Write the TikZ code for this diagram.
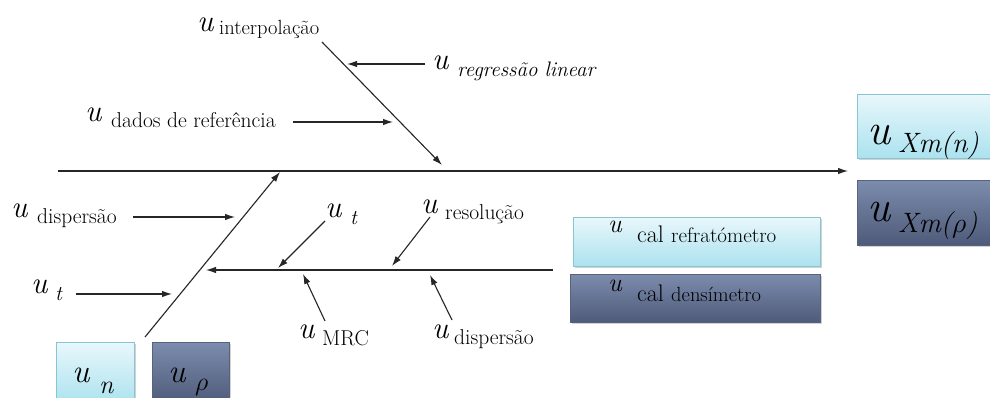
\RequirePackage{fix-cm}
\documentclass[tikz,border=0pt]{standalone}
\usetikzlibrary{arrows.meta,shadows}
\definecolor{ltop}{HTML}{E8F7FB}
\definecolor{lbot}{HTML}{ABE2EF}
\definecolor{ldraw}{HTML}{86C6D3}
\definecolor{dtop}{HTML}{7C8CAC}
\definecolor{dbot}{HTML}{4E5A7A}
\definecolor{ddraw}{HTML}{56627F}
\begin{document}
\begin{tikzpicture}[x=1pt,y=-1pt,
  ln/.style={line width=1.1pt,black!85},
  arr/.style={ln,-{Latex[length=10pt,width=6.5pt]}},
  lab/.style={anchor=base west,inner sep=0pt},
  uu/.style={lab,font=\fontsize{31}{31}\selectfont\itshape},
  sb/.style={lab,font=\fontsize{21.5}{21.5}\selectfont},
  lightbox/.style={draw=ldraw,line width=0.8pt,top color=ltop,bottom color=lbot,anchor=north west,inner sep=0pt,
    drop shadow={shadow xshift=1.5pt,shadow yshift=-1.5pt,opacity=0.35}},
  darkbox/.style={draw=ddraw,line width=0.8pt,top color=dtop,bottom color=dbot,anchor=north west,inner sep=0pt,
    drop shadow={shadow xshift=1.5pt,shadow yshift=-1.5pt,opacity=0.35}}]
\useasboundingbox[fill=white] (0,0) rectangle (990,398);
% coordinates
\coordinate (a0) at (58,171);   \coordinate (a1) at (848,171);
\coordinate (t0) at (322,42);   \coordinate (t1) at (442,165);
\coordinate (r0) at (425,64);   \coordinate (r1) at (347,64);
\coordinate (d0) at (293,122);  \coordinate (d1) at (393,122);
\coordinate (b0) at (145,337);  \coordinate (b1) at (280,172);
\coordinate (q0) at (133,217);  \coordinate (q1) at (235,217);
\coordinate (w0) at (76,294);   \coordinate (w1) at (172,294);
\coordinate (l0) at (553,270);  \coordinate (l1) at (206,270);
\coordinate (m0) at (325,221);  \coordinate (m1) at (278,268);
\coordinate (s0) at (430,217);  \coordinate (s1) at (392,266);
\coordinate (c0) at (325,321);  \coordinate (c1) at (303,274);
\coordinate (p0) at (452,320);  \coordinate (p1) at (430,275);
% boxes
\node[lightbox,minimum width=139pt,minimum height=64pt] (bXn) at (857,94) {};
\node[darkbox,minimum width=139pt,minimum height=65pt] (bXr) at (857,180) {};
\node[lightbox,minimum width=247pt,minimum height=49pt] (bref) at (573,217) {};
\node[darkbox,minimum width=250pt,minimum height=48pt] (bden) at (570,274) {};
\node[lightbox,minimum width=78pt,minimum height=62pt] (bn) at (56,342) {};
\node[darkbox,minimum width=77pt,minimum height=62pt] (br) at (152,342) {};
% box texts
\node[lab,font=\fontsize{44}{44}\selectfont\itshape] (uXn) at (867,145) {u};
\node[lab,font=\fontsize{28}{28}\selectfont\itshape] (sXn) at (898,153) {Xm(n)};
\node[lab,font=\fontsize{44}{44}\selectfont\itshape] (uXr) at (867,222) {u};
\node[lab,font=\fontsize{28}{28}\selectfont\itshape] (sXr) at (898,232) {Xm($\rho$)};
\node[lab,font=\fontsize{26}{26}\selectfont\itshape] (uref) at (608,232) {u};
\node[lab,font=\fontsize{24}{24}\selectfont] (sref) at (637,242) {cal {\fontsize{21}{21}\selectfont refratómetro}};
\node[lab,font=\fontsize{26}{26}\selectfont\itshape] (uden) at (608,291) {u};
\node[lab,font=\fontsize{24}{24}\selectfont] (sden) at (637,301) {cal {\fontsize{20.5}{20.5}\selectfont densímetro}};
\node[lab,font=\fontsize{33}{33}\selectfont\itshape] (un) at (72,382) {u};
\node[lab,font=\fontsize{26}{26}\selectfont\itshape] (sn) at (99,393) {n};
\node[lab,font=\fontsize{33}{33}\selectfont\itshape] (ur) at (168,382) {u};
\node[lab,font=\fontsize{26}{26}\selectfont] (sr) at (195,390) {$\rho$};
% lines
\draw[arr] (a0) -- (a1);
\draw[arr] (t0) -- (t1);
\draw[arr] (r0) -- (r1);
\draw[arr] (d0) -- (d1);
\draw[arr] (b0) -- (b1);
\draw[arr] (q0) -- (q1);
\draw[arr] (w0) -- (w1);
\draw[arr] (l0) -- (l1);
\draw[arr] (m0) -- (m1);
\draw[arr] (s0) -- (s1);
\draw[arr] (c0) -- (c1);
\draw[arr] (p0) -- (p1);
% labels
\node[uu] (uinterp) at (197,32) {u};  \node[sb,font=\fontsize{20.5}{20.5}\selectfont] (Linterp) at (219,35) {interpolação};
\node[uu] (uregr) at (432,70) {u};    \node[sb,font=\fontsize{21}{21}\selectfont\itshape] (Lregr) at (457,77) {regressão\hspace{7pt}linear};
\node[uu] (udados) at (85,122) {u};   \node[sb] (Ldados) at (111,128) {dados de referência};
\node[uu] (udisp) at (11,217) {u};    \node[sb] (Ldisp) at (37,223) {dispersão};
\node[uu] (utl) at (31,293) {u};      \node[sb,font=\fontsize{21}{21}\selectfont\itshape] (Ltl) at (55,300) {t};
\node[uu] (utm) at (325,218) {u};     \node[sb,font=\fontsize{21}{21}\selectfont\itshape] (Ltm) at (350,225) {t};
\node[uu] (ures) at (421,213) {u};    \node[sb] (Lres) at (445,219) {resolução};
\node[uu] (umrc) at (298,338) {u};    \node[sb] (Lmrc) at (322,345) {MRC};
\node[uu] (udisp2) at (432,338) {u};  \node[sb] (Ldisp2) at (454,344) {dispersão};
\end{tikzpicture}
\end{document}
